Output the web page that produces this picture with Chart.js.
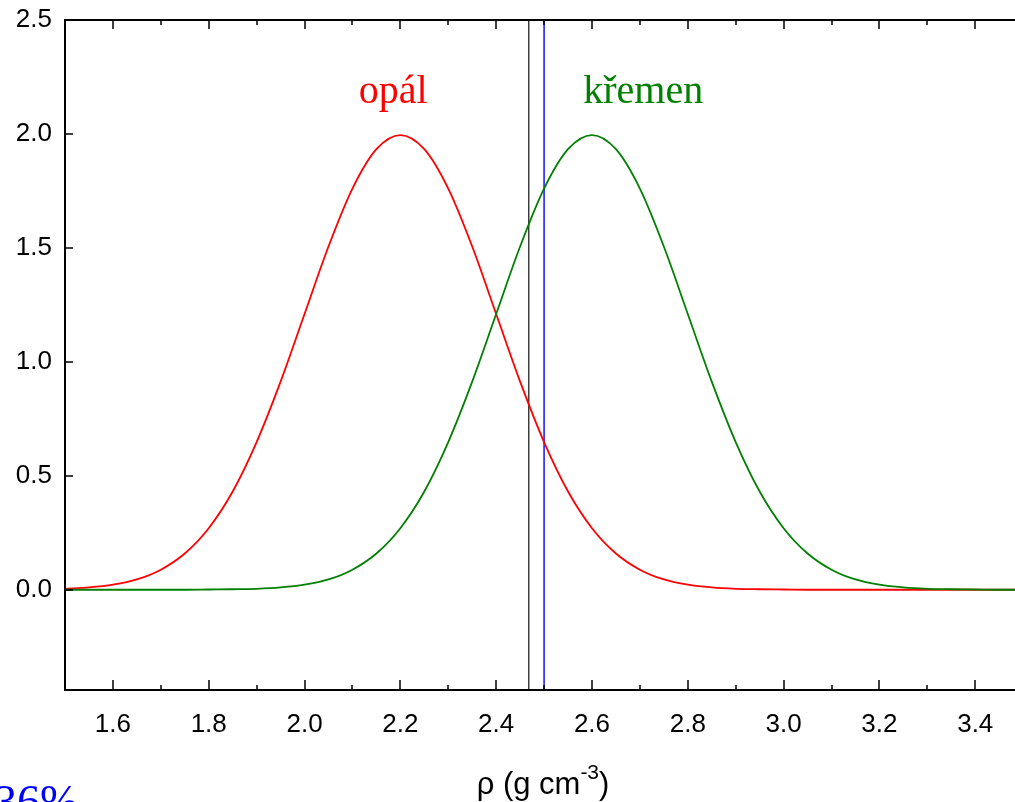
<!DOCTYPE html>
<html>
<head>
<meta charset="utf-8">
<script src="https://cdn.jsdelivr.net/npm/chart.js@4"></script>
<style>
  body { margin: 0; background: #fff; overflow: hidden; }
  #wrap { width: 1015px; height: 802px; position: relative; }
</style>
</head>
<body>
<div id="wrap"><canvas id="densityChart"></canvas></div>
<script>
// density (g cm^-3)
const rho = [1.50, 1.55, 1.60, 1.65, 1.70, 1.75, 1.80, 1.85, 1.90, 1.95,
             2.00, 2.05, 2.10, 2.15, 2.20, 2.25, 2.30, 2.35, 2.40, 2.45,
             2.50, 2.55, 2.60, 2.65, 2.70, 2.75, 2.80, 2.85, 2.90, 2.95,
             3.00, 3.05, 3.10, 3.15, 3.20, 3.25, 3.30, 3.35, 3.40, 3.45, 3.50];
// opal curve (red)
const opal = [0.004, 0.010, 0.022, 0.045, 0.088, 0.159, 0.270, 0.431, 0.648, 0.913,
              1.210, 1.506, 1.760, 1.933, 1.995, 1.933, 1.760, 1.506, 1.210, 0.913,
              0.648, 0.431, 0.270, 0.159, 0.088, 0.045, 0.022, 0.010, 0.004, 0.002,
              0.001, 0, 0, 0, 0, 0, 0, 0, 0, 0, 0];
// quartz curve (green)
const kremen = [0, 0, 0, 0, 0, 0, 0.001, 0.002, 0.004, 0.010,
                0.022, 0.045, 0.088, 0.159, 0.270, 0.431, 0.648, 0.913, 1.210, 1.506,
                1.760, 1.933, 1.995, 1.933, 1.760, 1.506, 1.210, 0.913, 0.648, 0.431,
                0.270, 0.159, 0.088, 0.045, 0.022, 0.010, 0.004, 0.002, 0.001, 0, 0];
// vertical markers
const blackLineX = 2.468;
const blueLineX = 2.5;

const xTicks = [1.6, 1.8, 2.0, 2.2, 2.4, 2.6, 2.8, 3.0, 3.2, 3.4];
const xMinorTicks = [1.5, 1.7, 1.9, 2.1, 2.3, 2.5, 2.7, 2.9, 3.1, 3.3];
const yTicks = [0.0, 0.5, 1.0, 1.5, 2.0, 2.5];

const xMin = 1.5, xMax = 3.483, yMin = -0.44, yMax = 2.5;

function pts(xs, ys) { return xs.map((x, i) => ({x: x, y: ys[i]})); }

const frame = {
  id: "frame",
  afterDatasetsDraw(chart) {
    const ctx = chart.ctx, a = chart.chartArea;
    const xs = chart.scales.x, ys = chart.scales.y;
    ctx.save();
    ctx.strokeStyle = "#000";
    ctx.lineWidth = 2;
    ctx.beginPath();
    ctx.moveTo(chart.width + 5, a.top); ctx.lineTo(a.left, a.top);
    ctx.lineTo(a.left, a.bottom); ctx.lineTo(chart.width + 5, a.bottom);
    ctx.stroke();
    ctx.lineWidth = 1.5;
    ctx.beginPath();
    xTicks.forEach(v => {
      const px = Math.round(xs.getPixelForValue(v));
      ctx.moveTo(px, a.bottom); ctx.lineTo(px, a.bottom - 10);
      ctx.moveTo(px, a.top); ctx.lineTo(px, a.top + 9);
    });
    xMinorTicks.forEach(v => {
      const px = Math.round(xs.getPixelForValue(v));
      ctx.moveTo(px, a.bottom); ctx.lineTo(px, a.bottom - 5);
      ctx.moveTo(px, a.top); ctx.lineTo(px, a.top + 5);
    });
    yTicks.forEach(v => {
      const py = Math.round(ys.getPixelForValue(v));
      ctx.moveTo(a.left, py); ctx.lineTo(a.left + 8, py);
    });
    ctx.stroke();

    // curve names
    ctx.font = "40px 'Liberation Serif'";
    ctx.textAlign = "center";
    ctx.textBaseline = "alphabetic";
    ctx.fillStyle = "#ff0000";
    ctx.fillText("opál", xs.getPixelForValue(2.185), ys.getPixelForValue(2.136));
    ctx.fillStyle = "#008000";
    ctx.fillText("křemen", xs.getPixelForValue(2.707), ys.getPixelForValue(2.136));

    // axis title with superscript
    ctx.fillStyle = "#000";
    ctx.textAlign = "left";
    const cx = (a.left + a.right) / 2;
    const main = "ρ (g cm", sup = "-3", end = ")";
    ctx.font = "31px 'Liberation Sans'";
    const w1 = ctx.measureText(main).width, w3 = ctx.measureText(end).width;
    ctx.font = "21px 'Liberation Sans'";
    const w2 = ctx.measureText(sup).width;
    let x0 = cx - (w1 + w2 + w3) / 2 + 3;
    const base = 794;
    ctx.font = "31px 'Liberation Sans'";
    ctx.fillText(main, x0, base);
    ctx.font = "21px 'Liberation Sans'";
    ctx.fillText(sup, x0 + w1, base - 15);
    ctx.font = "31px 'Liberation Sans'";
    ctx.fillText(end, x0 + w1 + w2, base);

    // stray percentage label at the bottom edge
    ctx.fillStyle = "#0000ff";
    ctx.font = "46px 'Liberation Serif'";
    ctx.fillText("36%", -6, 817);
    ctx.restore();
  }
};

const chartCtx = document.getElementById("densityChart").getContext("2d");

const densityChart = new Chart(chartCtx, {
  type: "line",
  data: {
    datasets: [
      {
        label: "křemen",
        data: pts(rho, kremen),
        borderColor: "#008000",
        borderWidth: 1.8,
        pointRadius: 0,
        cubicInterpolationMode: "monotone",
        fill: false
      },
      {
        label: "opál",
        data: pts(rho, opal),
        borderColor: "#ff0000",
        borderWidth: 1.8,
        pointRadius: 0,
        cubicInterpolationMode: "monotone",
        fill: false
      },
      {
        label: "black",
        data: [{x: blackLineX, y: yMin}, {x: blackLineX, y: yMax}],
        borderColor: "#333333",
        borderWidth: 1.4,
        pointRadius: 0
      },
      {
        label: "blue",
        data: [{x: blueLineX, y: yMin}, {x: blueLineX, y: yMax}],
        borderColor: "#0000ff",
        borderWidth: 1.4,
        pointRadius: 0
      }
    ]
  },
  options: {
    responsive: true,
    maintainAspectRatio: false,
    animation: false,
    layout: { padding: { top: 20, right: 0, left: 0, bottom: 0 } },
    plugins: {
      legend: { display: false },
      tooltip: { enabled: false }
    },
    scales: {
      x: {
        type: "linear",
        min: xMin,
        max: xMax,
        grid: { display: false, drawTicks: false },
        border: { display: false },
        afterBuildTicks: s => { s.ticks = xTicks.map(v => ({value: v})); },
        afterFit: s => { s.height = 112; s.paddingLeft = 0; s.paddingRight = 0; },
        ticks: {
          padding: 19,
          color: "#000",
          maxRotation: 0,
          autoSkip: false,
          font: { family: "'Liberation Sans'", size: 26 },
          callback: v => v.toFixed(1)
        }
      },
      y: {
        type: "linear",
        min: yMin,
        max: yMax,
        grid: { display: false, drawTicks: false },
        border: { display: false },
        afterBuildTicks: s => { s.ticks = yTicks.map(v => ({value: v})); },
        afterFit: s => { s.width = 65; s.paddingTop = 0; s.paddingBottom = 0; },
        ticks: {
          padding: 13,
          color: "#000",
          autoSkip: false,
          font: { family: "'Liberation Sans'", size: 26 },
          callback: v => v.toFixed(1)
        }
      }
    }
  },
  plugins: [frame]
});
</script>
</body>
</html>
